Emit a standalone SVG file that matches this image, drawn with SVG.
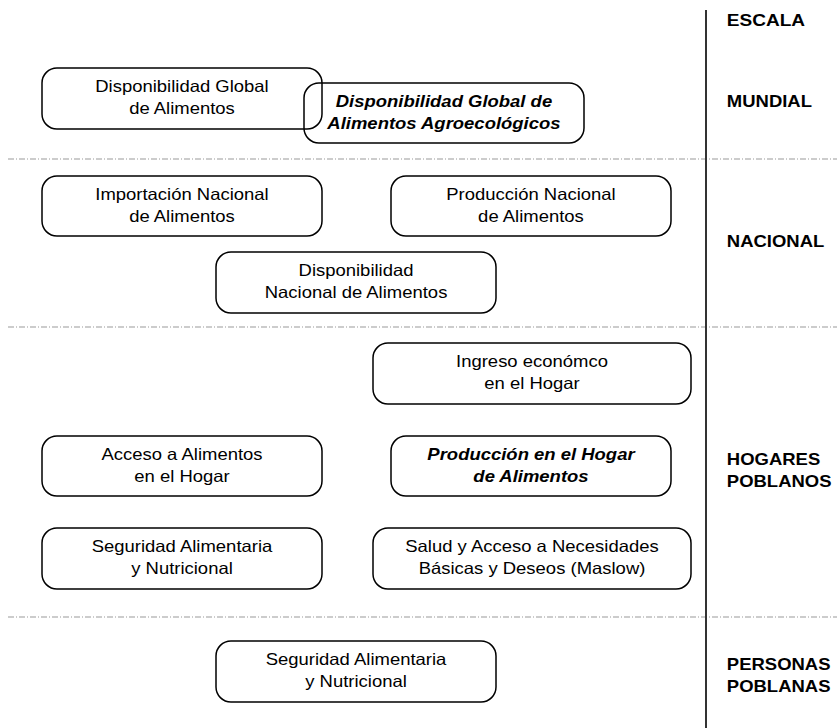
<svg xmlns="http://www.w3.org/2000/svg" width="837" height="728" viewBox="0 0 837 728">
<style>
.box{fill:none;stroke:#000;stroke-width:1.5}
.t{font-family:"Liberation Sans",Arial,sans-serif;font-size:16.5px;fill:#000;text-anchor:middle}
.bi{font-weight:bold;font-style:italic}
.lab{font-family:"Liberation Sans",Arial,sans-serif;font-size:16.5px;font-weight:bold;fill:#000}
.sep{stroke:#999;stroke-width:1;stroke-dasharray:6 2 1 2;fill:none}
</style>
<rect width="837" height="728" fill="#fff"/>
<g id="connectors">
<line class="sep" x1="8" y1="159" x2="837" y2="159"/>
<line class="sep" x1="8" y1="327" x2="837" y2="327"/>
<line class="sep" x1="8" y1="617" x2="837" y2="617"/>
<line x1="706" y1="10" x2="706" y2="728" stroke="#333" stroke-width="2"/>
</g>
<g id="n1"><rect class="box" x="42" y="68" width="280" height="61" rx="15"/>
<g transform="scale(1.12,1)"><text class="t" x="162.5" y="92">Disponibilidad Global</text><text class="t" x="162.5" y="114">de Alimentos</text></g></g>
<g id="n2"><rect class="box" x="304" y="83" width="280" height="60" rx="15"/>
<g transform="scale(1.12,1)"><text class="t bi" x="396.4" y="107">Disponibilidad Global de</text><text class="t bi" x="396.4" y="129">Alimentos Agroecológicos</text></g></g>
<g id="n3"><rect class="box" x="42" y="176" width="280" height="60" rx="15"/>
<g transform="scale(1.12,1)"><text class="t" x="162.5" y="200">Importación Nacional</text><text class="t" x="162.5" y="222">de Alimentos</text></g></g>
<g id="n4"><rect class="box" x="391" y="176" width="280" height="60" rx="15"/>
<g transform="scale(1.12,1)"><text class="t" x="474.1" y="200">Producción Nacional</text><text class="t" x="474.1" y="222">de Alimentos</text></g></g>
<g id="n5"><rect class="box" x="216" y="252" width="280" height="61" rx="15"/>
<g transform="scale(1.12,1)"><text class="t" x="317.9" y="276">Disponibilidad</text><text class="t" x="317.9" y="298">Nacional de Alimentos</text></g></g>
<g id="n6"><rect class="box" x="373" y="343" width="318" height="61" rx="15"/>
<g transform="scale(1.12,1)"><text class="t" x="475" y="367">Ingreso económco</text><text class="t" x="475" y="389">en el Hogar</text></g></g>
<g id="n7"><rect class="box" x="42" y="436" width="280" height="60" rx="15"/>
<g transform="scale(1.12,1)"><text class="t" x="162.5" y="460">Acceso a Alimentos</text><text class="t" x="162.5" y="482">en el Hogar</text></g></g>
<g id="n8"><rect class="box" x="391" y="436" width="280" height="60" rx="15"/>
<g transform="scale(1.12,1)"><text class="t bi" x="474.1" y="460">Producción en el Hogar</text><text class="t bi" x="474.1" y="482">de Alimentos</text></g></g>
<g id="n9"><rect class="box" x="42" y="528" width="280" height="61" rx="15"/>
<g transform="scale(1.12,1)"><text class="t" x="162.5" y="552">Seguridad Alimentaria</text><text class="t" x="162.5" y="574">y Nutricional</text></g></g>
<g id="n10"><rect class="box" x="373" y="528" width="318" height="61" rx="15"/>
<g transform="scale(1.12,1)"><text class="t" x="475" y="552">Salud y Acceso a Necesidades</text><text class="t" x="475" y="574">Básicas y Deseos (Maslow)</text></g></g>
<g id="n11"><rect class="box" x="216" y="641" width="280" height="61" rx="15"/>
<g transform="scale(1.12,1)"><text class="t" x="317.9" y="665">Seguridad Alimentaria</text><text class="t" x="317.9" y="687">y Nutricional</text></g></g>
<g id="labels" transform="scale(1.12,1)">
<text class="lab" x="649" y="26" style="font-size:17px">ESCALA</text>
<text class="lab" x="649" y="107">MUNDIAL</text>
<text class="lab" x="649" y="247">NACIONAL</text>
<text class="lab" x="649" y="465">HOGARES</text>
<text class="lab" x="649" y="487">POBLANOS</text>
<text class="lab" x="649" y="670">PERSONAS</text>
<text class="lab" x="649" y="692">POBLANAS</text>
</g>
</svg>
